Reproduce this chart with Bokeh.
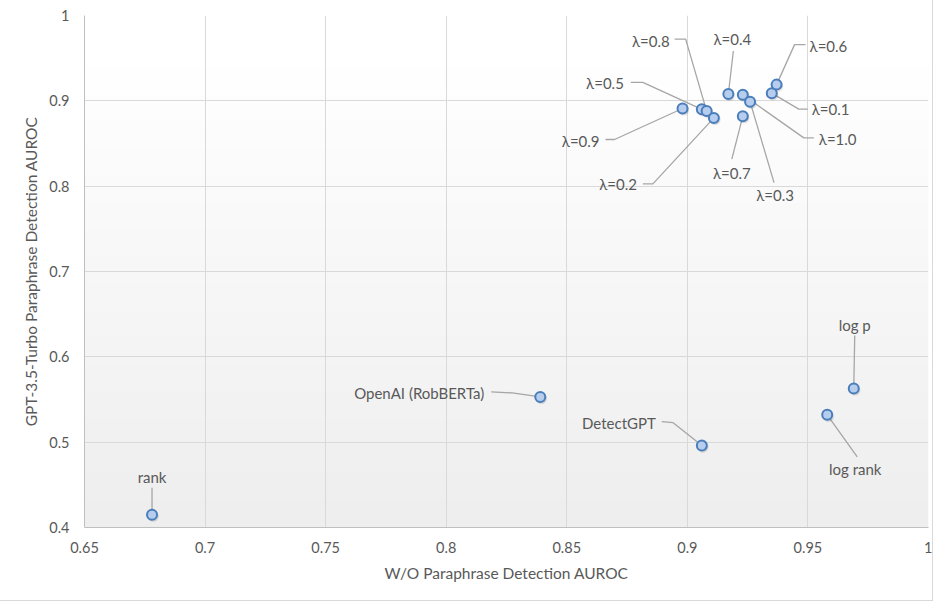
import numpy as np
from bokeh.plotting import figure
from bokeh.models import FixedTicker, ColumnDataSource
from bokeh.core.properties import value
from bokeh.embed import file_html
from bokeh.resources import INLINE

# ---------------- data ----------------
names = ["rank", "OpenAI (RobBERTa)", "DetectGPT", "log rank", "log p",
         "λ=0.9", "λ=0.5", "λ=0.8", "λ=0.2", "λ=0.4", "λ=1.0", "λ=0.3",
         "λ=0.7", "λ=0.1", "λ=0.6"]
wo_paraphrase_auroc = [0.678, 0.839, 0.906, 0.958, 0.969,
                       0.898, 0.906, 0.908, 0.911, 0.917, 0.923, 0.926,
                       0.923, 0.935, 0.937]
gpt35_paraphrase_auroc = [0.415, 0.553, 0.496, 0.532, 0.563,
                          0.891, 0.890, 0.888, 0.880, 0.908, 0.907, 0.899,
                          0.882, 0.909, 0.919]

x_ticks = [0.65, 0.7, 0.75, 0.8, 0.85, 0.9, 0.95, 1.0]
x_tick_labels = ["0.65", "0.7", "0.75", "0.8", "0.85", "0.9", "0.95", "1"]
y_ticks = [0.4, 0.5, 0.6, 0.7, 0.8, 0.9, 1.0]
y_tick_labels = ["0.4", "0.5", "0.6", "0.7", "0.8", "0.9", "1"]

x_title = "W/O Paraphrase Detection AUROC"
y_title = "GPT-3.5-Turbo Paraphrase Detection AUROC"

# ------------- label layout (screen-pixel offsets from each point) -------------
# (dx, dy, align, leader elbow offsets)
label_layout = {
    "rank": (0, -38, "center", [(0, -27)]),
    "OpenAI (RobBERTa)": (-56, -4, "right", [(-49, -5), (-28, -4)]),
    "DetectGPT": (-46, -23, "right", [(-40, -24), (-29, -23)]),
    "log rank": (28, 54, "center", [(30, 42)]),
    "log p": (1, -63, "center", [(1, -53)]),
    "λ=0.9": (-83, 32, "right", [(-77, 31), (-68, 31)]),
    "λ=0.5": (-78, -26, "right", [(-71, -27), (-59, -27)]),
    "λ=0.8": (-37, -70, "right", [(-32, -72), (-21, -72)]),
    "λ=0.2": (-77, 66, "right", [(-71, 66), (-61, 66)]),
    "λ=0.4": (4, -55, "center", [(5, -43)]),
    "λ=1.0": (76, 44, "left", [(71, 43), (61, 43)]),
    "λ=0.3": (25, 93, "center", [(24, 81)]),
    "λ=0.7": (-11, 57, "center", [(-11, 43)]),
    "λ=0.1": (40, 16, "left", [(36, 16), (27, 16)]),
    "λ=0.6": (33, -39, "left", [(29, -40), (18, -40)]),
}

FONT = "Lato"
TXT = "#595959"

X0, X1 = x_ticks[0], x_ticks[-1]
Y0, Y1 = y_ticks[0], y_ticks[-1]
FRAME_W, FRAME_H = 844, 512
XS = FRAME_W / (X1 - X0)
YS = FRAME_H / (Y1 - Y0)

p = figure(width=932, height=600, output_backend="svg", toolbar_location=None,
           x_range=(X0, X1), y_range=(Y0, Y1),
           min_border_left=84, min_border_right=4, min_border_top=15, min_border_bottom=73)
p.frame_width = FRAME_W
p.frame_height = FRAME_H
p.outline_line_color = None
p.background_fill_color = "white"
p.border_fill_color = "white"

# gradient background of the plot area
n = 256
t = np.linspace(0, 1, n)  # 0 bottom, 1 top
g = np.clip(238 + (255 - 238) * np.clip(t / 0.9, 0, 1), 0, 255).astype(np.uint32)
rgba = (255 << 24) | (g << 16) | (g << 8) | g
img = np.repeat(rgba[:, None], 2, axis=1).astype(np.uint32)
r_img = p.image_rgba(image=[img], x=X0, y=Y0, dw=X1 - X0, dh=Y1 - Y0)
r_img.level = "image"

# axes
for ax, ticks, labels in ((p.xaxis, x_ticks, x_tick_labels), (p.yaxis, y_ticks, y_tick_labels)):
    ax.ticker = FixedTicker(ticks=ticks)
    ax.major_label_overrides = {tv: tl for tv, tl in zip(ticks, labels)}
    ax.major_tick_line_color = None
    ax.minor_tick_line_color = None
    ax.axis_line_color = "#bfbfbf"
    ax.axis_line_width = 1
    ax.major_label_text_font = FONT
    ax.major_label_text_font_size = "14.5px"
    ax.major_label_text_color = TXT
    ax.axis_label_text_font = FONT
    ax.axis_label_text_font_size = "15.5px"
    ax.axis_label_text_font_style = "normal"
    ax.axis_label_text_color = TXT

p.xaxis.axis_label = x_title
p.yaxis.axis_label = y_title
p.xaxis.major_label_standoff = 8
p.yaxis.major_label_standoff = 9
p.xaxis.axis_label_standoff = 8
p.yaxis.axis_label_standoff = 6

p.grid.grid_line_color = "#d9d9d9"
p.grid.grid_line_width = 1
p.xgrid.ticker = FixedTicker(ticks=x_ticks)
p.ygrid.ticker = FixedTicker(ticks=y_ticks)

# leader lines
lx, ly = [], []
for nm, xv, yv in zip(names, wo_paraphrase_auroc, gpt35_paraphrase_auroc):
    dx, dy, al, elbows = label_layout[nm]
    xs = [xv + ex / XS for ex, ey in elbows] + [xv]
    ys = [yv - ey / YS for ex, ey in elbows] + [yv]
    lx.append(xs)
    ly.append(ys)
p.multi_line(xs=lx, ys=ly, line_color="#a6a6a6", line_width=1.3)

# markers (with faint shadow)
p.scatter(x=[xv + 1.2 / XS for xv in wo_paraphrase_auroc],
          y=[yv - 1.6 / YS for yv in gpt35_paraphrase_auroc],
          size=11, marker="circle", fill_color="#000000", fill_alpha=0.12, line_color=None)
p.scatter(x=wo_paraphrase_auroc, y=gpt35_paraphrase_auroc, size=10, marker="circle",
          fill_color="#b7cdee", line_color="#4a7ebb", line_width=2)

# labels
for align in ("left", "center", "right"):
    sel = [i for i, nm in enumerate(names) if label_layout[nm][2] == align]
    src = ColumnDataSource(dict(
        x=[wo_paraphrase_auroc[i] for i in sel],
        y=[gpt35_paraphrase_auroc[i] for i in sel],
        t=[names[i] for i in sel],
        dx=[label_layout[names[i]][0] for i in sel],
        dy=[label_layout[names[i]][1] for i in sel],
    ))
    p.text(x="x", y="y", text="t", x_offset="dx", y_offset="dy", source=src,
           text_font=value(FONT), text_font_size="15px", text_color=TXT,
           text_align=align, text_baseline="middle")

p.styles = {"outline": "1px solid #d9d9d9"}

open("out.html", "w").write(file_html(p, INLINE))
